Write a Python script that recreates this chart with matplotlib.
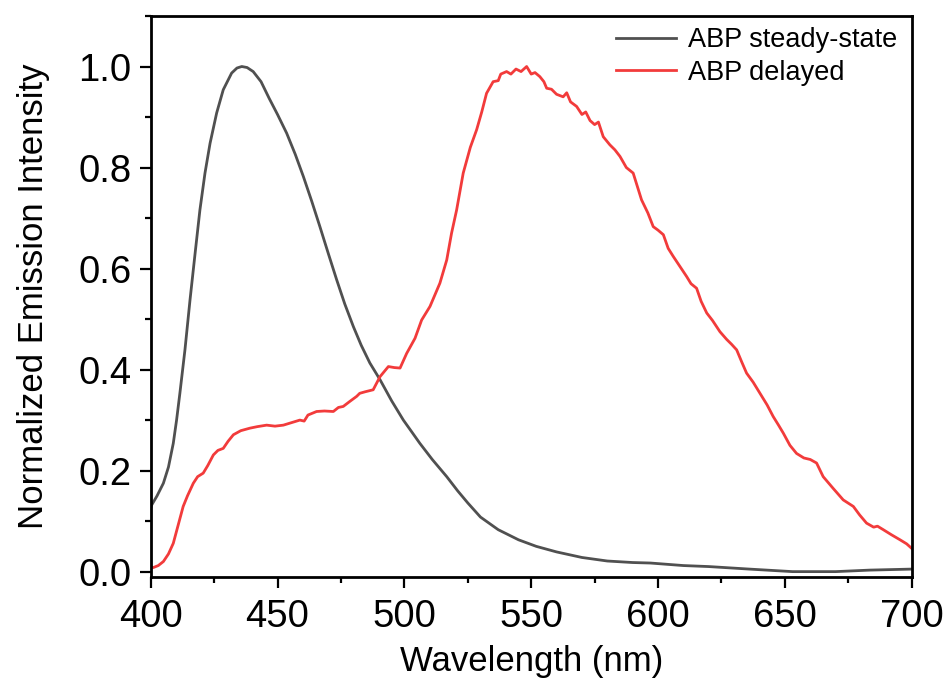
import matplotlib
matplotlib.use("Agg")
import matplotlib.pyplot as plt
from matplotlib.ticker import MultipleLocator, FormatStrFormatter

# ABP steady-state emission (wavelength nm, normalized intensity)
ss_wl = [400, 400.4, 402.5, 405.0, 407, 408.9, 410.2, 411.5, 413.5, 415.5, 417.5, 419.4,
         421.4, 423.4, 426.0, 428.6, 431.9, 434, 435.9, 438, 440.4, 443.5, 446.7, 450,
         453.6, 457, 460.2, 463.5, 466.7, 470, 473.3, 476.5, 479.9, 483, 486.4, 490.4,
         495, 499.6, 503, 506.1, 511, 516.7, 521, 525, 530, 537, 545, 552, 560, 570,
         580, 590, 597, 610, 620, 636, 653, 670, 683.5, 700]
ss_val = [0.125, 0.132, 0.15, 0.175, 0.207, 0.254, 0.30, 0.353, 0.439, 0.538, 0.630, 0.716,
          0.789, 0.848, 0.908, 0.954, 0.987, 0.997, 1.0, 0.998, 0.99, 0.97, 0.937, 0.905,
          0.868, 0.826, 0.782, 0.733, 0.683, 0.630, 0.578, 0.530, 0.485, 0.448, 0.413, 0.380,
          0.338, 0.300, 0.276, 0.254, 0.222, 0.188, 0.16, 0.136, 0.108, 0.083, 0.063, 0.05,
          0.039, 0.028, 0.021, 0.018, 0.017, 0.012, 0.01, 0.005, 0.0, 0.0, 0.003, 0.005]

# ABP delayed emission
dl_wl = [400, 401, 403, 405, 407, 408.9, 411, 412.8, 414.5, 416.8, 418.5, 420.7, 422.5,
         424.7, 426.5, 428.6, 430.5, 432.6, 435.5, 439.1, 442, 445.7, 449, 452.3, 455.5,
         458.8, 460.5, 462, 465.4, 468.5, 472, 474, 475.9, 478.5, 481.2, 482.4, 484.5,
         487.7, 490.4, 493.7, 496, 498.3, 500.9, 504.2, 506.8, 510.1, 514, 516.7, 518.6,
         520.6, 523.2, 526, 528.5, 530.5, 532.4, 535, 537, 538, 540.3, 542, 544, 546,
         548.2, 550, 551.5, 553.4, 555, 556.1, 558, 560, 562.6, 564, 565.5, 567.9, 570,
         571.5, 573.2, 575, 576.5, 578.4, 581, 583, 585, 587.5, 590.2, 593.5, 596, 598.1,
         600, 602.1, 604, 606, 608.5, 611.3, 613, 615.2, 617, 619.2, 621.5, 624.4, 627,
         629, 631, 633, 634.9, 637.5, 640.2, 643, 645.4, 647.5, 649.4, 652, 654.6, 657.5,
         660, 662.5, 665.1, 669, 673, 677, 679.5, 682.2, 685, 686.5, 688.8, 692, 695.4,
         698, 700]
dl_val = [0.01, 0.008, 0.012, 0.02, 0.035, 0.056, 0.095, 0.129, 0.15, 0.175, 0.188, 0.195,
          0.21, 0.231, 0.24, 0.244, 0.258, 0.271, 0.279, 0.284, 0.287, 0.29, 0.288, 0.29,
          0.295, 0.30, 0.298, 0.31, 0.317, 0.318, 0.317, 0.325, 0.327, 0.337, 0.347, 0.353,
          0.356, 0.36, 0.386, 0.406, 0.404, 0.403, 0.432, 0.462, 0.498, 0.525, 0.571, 0.617,
          0.67, 0.716, 0.789, 0.84, 0.875, 0.91, 0.947, 0.97, 0.972, 0.985, 0.99, 0.985,
          0.995, 0.99, 1.0, 0.985, 0.988, 0.98, 0.97, 0.957, 0.955, 0.945, 0.94, 0.948,
          0.93, 0.921, 0.905, 0.91, 0.893, 0.885, 0.89, 0.861, 0.845, 0.835, 0.822, 0.80,
          0.789, 0.736, 0.71, 0.683, 0.676, 0.667, 0.64, 0.624, 0.605, 0.584, 0.57, 0.561,
          0.535, 0.512, 0.497, 0.475, 0.46, 0.45, 0.439, 0.415, 0.393, 0.375, 0.353, 0.33,
          0.307, 0.29, 0.274, 0.25, 0.234, 0.225, 0.222, 0.215, 0.188, 0.165, 0.142, 0.129,
          0.112, 0.096, 0.088, 0.09, 0.083, 0.073, 0.063, 0.055, 0.046]

labels = ["ABP steady-state", "ABP delayed"]
colors = ["#505050", "#f23b3b"]

plt.rcParams['font.family'] = ['Liberation Sans', 'DejaVu Sans']

fig = plt.figure(figsize=(9.49, 6.81), dpi=100)
ax = fig.add_axes([0.1588, 0.1532, 0.8019, 0.8233])

ax.plot(ss_wl, ss_val, color=colors[0], lw=2.0, label=labels[0])
ax.plot(dl_wl, dl_val, color=colors[1], lw=2.0, label=labels[1])

ax.set_xlim(400, 700)
ax.set_ylim(-0.01, 1.10)
ax.xaxis.set_major_locator(MultipleLocator(50))
ax.xaxis.set_minor_locator(MultipleLocator(25))
ax.yaxis.set_major_locator(MultipleLocator(0.2))
ax.yaxis.set_minor_locator(MultipleLocator(0.1))
ax.yaxis.set_major_formatter(FormatStrFormatter('%.1f'))

for s in ax.spines.values():
    s.set_linewidth(2.0)
ax.tick_params(which='major', direction='out', length=8, width=1.6, labelsize=27.5)
ax.tick_params(axis='x', which='major', pad=8)
ax.tick_params(axis='y', which='major', pad=6)
ax.tick_params(which='minor', direction='out', length=4.5, width=1.6)
ax.tick_params(top=False, right=False, which='both')

ax.set_xlabel("Wavelength (nm)", fontsize=25, labelpad=7)
ax.set_ylabel("Normalized Emission Intensity", fontsize=25, labelpad=20)

ax.legend(loc='upper right', bbox_to_anchor=(1.006, 1.014), frameon=False, fontsize=19.5,
          handlelength=2.2, handletextpad=0.45, labelspacing=0.24, borderaxespad=0.3)

fig.savefig("out.png", dpi=100)
